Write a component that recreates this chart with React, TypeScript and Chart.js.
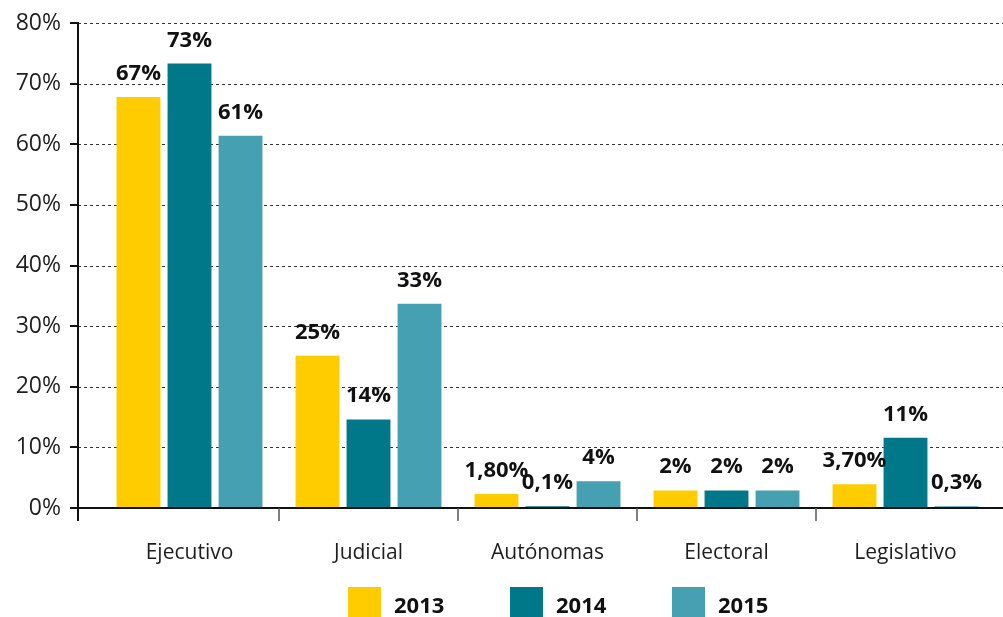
import React, { useEffect, useRef } from "react";
import { Chart, registerables } from "chart.js";

Chart.register(...registerables);

const categories = ["Ejecutivo", "Judicial", "Autónomas", "Electoral", "Legislativo"];
const seriesNames = ["2013", "2014", "2015"];
const values2013 = [67.8, 25.1, 2.3, 2.9, 3.9];
const values2014 = [73.3, 14.6, 0.3, 2.9, 11.6];
const values2015 = [61.4, 33.7, 4.4, 2.9, 0.3];
const labels2013 = ["67%", "25%", "1,80%", "2%", "3,70%"];
const labels2014 = ["73%", "14%", "0,1%", "2%", "11%"];
const labels2015 = ["61%", "33%", "4%", "2%", "0,3%"];
const yTickValues = [0, 10, 20, 30, 40, 50, 60, 70, 80];
const seriesColors = ["#FFCC00", "#00788A", "#45A1B2"];

const FONT = "'Open Sans', 'Noto Sans', sans-serif";
const TEXT = "#1e1e1e";

const overlayPlugin = {
  id: "overlay",
  beforeDatasetsDraw(chart: any) {
    const { ctx, scales, width } = chart;
    const y = scales.y;
    const axisX = 78;
    ctx.save();
    ctx.strokeStyle = "#333";
    ctx.lineWidth = 1;
    ctx.setLineDash([3, 3]);
    yTickValues.forEach((v) => {
      if (v === 0) return;
      const py = Math.round(y.getPixelForValue(v)) + 0.5;
      ctx.beginPath();
      ctx.moveTo(axisX, py);
      ctx.lineTo(width, py);
      ctx.stroke();
    });
    ctx.restore();
  },
  afterDatasetsDraw(chart: any) {
    const { ctx, scales, width } = chart;
    const x = scales.x;
    const y = scales.y;
    const axisX = 78;
    const zeroY = Math.round(y.getPixelForValue(0));
    const topY = Math.round(y.getPixelForValue(80));
    ctx.save();
    ctx.strokeStyle = "#111";
    ctx.setLineDash([]);
    ctx.lineWidth = 2;
    ctx.beginPath();
    ctx.moveTo(axisX, topY - 1);
    ctx.lineTo(axisX, zeroY + 13);
    ctx.stroke();
    yTickValues.forEach((v) => {
      const py = Math.round(y.getPixelForValue(v));
      ctx.beginPath();
      ctx.moveTo(axisX - 8, py);
      ctx.lineTo(axisX, py);
      ctx.stroke();
    });
    ctx.beginPath();
    ctx.moveTo(axisX, zeroY);
    ctx.lineTo(width, zeroY);
    ctx.stroke();
    ctx.strokeStyle = "#555";
    ctx.lineWidth = 1.5;
    const catW = x.width / categories.length;
    for (let i = 1; i < categories.length; i++) {
      const bx = Math.round(x.getPixelForValue(i) - catW / 2);
      ctx.beginPath();
      ctx.moveTo(bx, zeroY);
      ctx.lineTo(bx, zeroY + 13);
      ctx.stroke();
    }
    const allLabels = [labels2013, labels2014, labels2015];
    ctx.fillStyle = "#111";
    ctx.font = `bold 22px ${FONT}`;
    ctx.textAlign = "center";
    ctx.textBaseline = "alphabetic";
    chart.data.datasets.forEach((ds: any, di: number) => {
      const meta = chart.getDatasetMeta(di);
      meta.data.forEach((el: any, i: number) => {
        ctx.fillText(allLabels[di][i], el.x, el.y - 17);
      });
    });
    ctx.restore();
  },
  afterDraw(chart: any) {
    const { ctx } = chart;
    ctx.save();
    const startX = 348;
    const spacing = 162;
    const boxY = 587;
    ctx.font = `bold 22px ${FONT}`;
    ctx.textAlign = "left";
    ctx.textBaseline = "alphabetic";
    chart.data.datasets.forEach((ds: any, i: number) => {
      const bx = startX + i * spacing;
      ctx.fillStyle = ds.backgroundColor;
      ctx.fillRect(bx, boxY, 33, 32);
      ctx.fillStyle = "#111";
      ctx.fillText(ds.label, bx + 46, 613);
    });
    ctx.restore();
  },
};

export default function App() {
  const canvasRef = useRef<HTMLCanvasElement | null>(null);

  useEffect(() => {
    const canvas = canvasRef.current;
    if (!canvas) return;
    const seriesValues = [values2013, values2014, values2015];
    const chart = new Chart(canvas, {
      type: "bar",
      data: {
        labels: categories,
        datasets: seriesNames.map((name, i) => ({
          label: name,
          data: seriesValues[i],
          backgroundColor: seriesColors[i],
          borderWidth: 0,
          categoryPercentage: 0.855,
          barPercentage: 0.86,
        })),
      },
      options: {
        responsive: false,
        maintainAspectRatio: false,
        animation: false,
        devicePixelRatio: 1,
        layout: { padding: { top: 23, right: 8, left: 0, bottom: 0 } },
        plugins: {
          legend: { display: false },
          tooltip: { enabled: false },
          title: { display: false },
        },
        scales: {
          x: {
            type: "category",
            grid: { display: false, drawTicks: false },
            border: { display: false },
            ticks: {
              color: TEXT,
              font: { family: FONT, size: 21 },
              padding: 32,
              maxRotation: 0,
              autoSkip: false,
            },
            afterFit: (scale: any) => {
              scale.height = 109;
              scale.paddingLeft = 0;
              scale.paddingRight = 0;
            },
          },
          y: {
            min: 0,
            max: 80,
            grid: { display: false, drawTicks: false },
            border: { display: false },
            ticks: {
              stepSize: 10,
              color: TEXT,
              font: { family: FONT, size: 23 },
              padding: 39,
              callback: (v: any) => `${v}%`,
            },
            afterFit: (scale: any) => {
              scale.width = 100;
              scale.paddingTop = 0;
              scale.paddingBottom = 0;
            },
          },
        },
      },
      plugins: [overlayPlugin],
    });
    return () => chart.destroy();
  }, []);

  return (
    <div
      style={{
        position: "fixed",
        left: 0,
        top: 0,
        width: 1003,
        height: 617,
        background: "#fff",
        overflow: "hidden",
      }}
    >
      <canvas
        ref={canvasRef}
        width={1003}
        height={617}
        style={{ display: "block", width: 1003, height: 617 }}
      />
    </div>
  );
}
